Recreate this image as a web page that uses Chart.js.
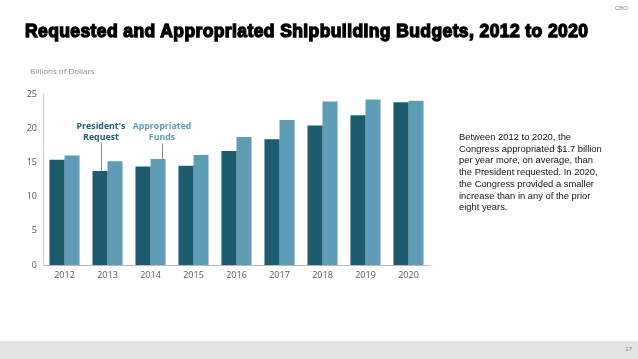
<!DOCTYPE html>
<html>
<head>
<meta charset="utf-8">
<script src="https://cdn.jsdelivr.net/npm/chart.js@4"></script>
<style>
html,body{margin:0;padding:0;background:#fff;}
body{width:638px;height:359px;position:relative;overflow:hidden;font-family:"Liberation Sans",Arial,sans-serif;}
#c{position:absolute;left:0;top:0;}
#title{position:absolute;left:25px;top:21px;font-size:17.5px;font-weight:bold;color:#000;white-space:nowrap;-webkit-text-stroke:1.3px #000;letter-spacing:0.4px;}
#cbo{position:absolute;right:10px;top:5px;font-size:6px;color:#888;}
#ylab{position:absolute;left:30px;top:65px;font-size:8px;color:#8a8a8a;font-family:"Open Sans",sans-serif;}
#note{position:absolute;left:459px;top:131px;font-size:9.4px;line-height:11.7px;color:#111;white-space:nowrap;}
#footer{position:absolute;left:0;top:341px;width:638px;height:18px;background:#e4e4e4;}
#pg{position:absolute;right:6px;top:346px;font-size:6px;color:#777;}
</style>
</head>
<body>
<canvas id="c" width="638" height="359"></canvas>
<div id="title">Requested and Appropriated Shipbuilding Budgets, 2012 to 2020</div>
<div id="cbo">CBO</div>
<div id="ylab">Billions of Dollars</div>
<div id="note">Between 2012 to 2020, the<br>Congress appropriated $1.7 billion<br>per year more, on average, than<br>the President requested. In 2020,<br>the Congress provided a smaller<br>increase than in any of the prior<br>eight years.</div>
<div id="footer"></div>
<div id="pg">17</div>
<script>
const years = ['2012','2013','2014','2015','2016','2017','2018','2019','2020'];
const presidentsRequest = [15.4, 13.75, 14.4, 14.5, 16.65, 18.4, 20.4, 21.9, 23.8];
const appropriatedFunds = [16.0, 15.15, 15.5, 16.1, 18.7, 21.2, 23.9, 24.2, 24.0];
const yTicks = [0, 5, 10, 15, 20, 25];

const darkTeal = '#1d5b70';
const lightTeal = '#5f9db6';

const annot = {
  id: 'annot',
  afterDatasetsDraw(chart) {
    const ctx = chart.ctx;
    const m0 = chart.getDatasetMeta(0).data[1];
    const m1 = chart.getDatasetMeta(1).data[2];
    ctx.save();
    ctx.font = 'bold 8.8px "Open Sans", sans-serif';
    ctx.textAlign = 'center';
    ctx.textBaseline = 'middle';
    const items = [
      {bar: m0, lines: ["President's", 'Request'], color: darkTeal, dx: 1},
      {bar: m1, lines: ['Appropriated', 'Funds'], color: lightTeal, dx: 4}
    ];
    const y1 = chart.scales.y.getPixelForValue(20.1);
    items.forEach(it => {
      const x = it.bar.x + it.dx;
      ctx.fillStyle = it.color;
      ctx.fillText(it.lines[0], x, y1 - 1);
      ctx.fillText(it.lines[1], x, y1 + 10);
      ctx.strokeStyle = '#8a8a8a';
      ctx.lineWidth = 1;
      ctx.beginPath();
      ctx.moveTo(Math.round(x) + 0.5, y1 + 16);
      ctx.lineTo(Math.round(x) + 0.5, it.bar.y);
      ctx.stroke();
    });
    ctx.restore();
  }
};

new Chart(document.getElementById('c'), {
  type: 'bar',
  data: {
    labels: years,
    datasets: [
      {label: "President's Request", data: presidentsRequest, backgroundColor: darkTeal, borderWidth: 0},
      {label: 'Appropriated Funds', data: appropriatedFunds, backgroundColor: lightTeal, borderWidth: 0}
    ]
  },
  options: {
    responsive: false,
    animation: false,
    events: [],
    layout: {padding: {left: 12, right: 208, top: 94, bottom: 74}},
    plugins: {legend: {display: false}, tooltip: {enabled: false}},
    datasets: {bar: {categoryPercentage: 0.7, barPercentage: 1.0}},
    scales: {
      x: {
        grid: {display: false, drawTicks: false},
        border: {display: true, color: '#b8b8b8', width: 1},
        ticks: {color: '#555', font: {size: 9, family: '"Open Sans", sans-serif'}, padding: 5},
        afterFit(s) { s.height = 20; }
      },
      y: {
        min: 0, max: 25,
        afterBuildTicks(s) { s.ticks = yTicks.map(v => ({value: v})); },
        grid: {display: false, drawTicks: false},
        border: {display: true, color: '#d0d0d0', width: 1},
        ticks: {color: '#555', font: {size: 9, family: '"Open Sans", sans-serif'}, padding: 6},
        afterFit(s) { s.width = 31; }
      }
    }
  },
  plugins: [annot]
});
</script>
</body>
</html>
